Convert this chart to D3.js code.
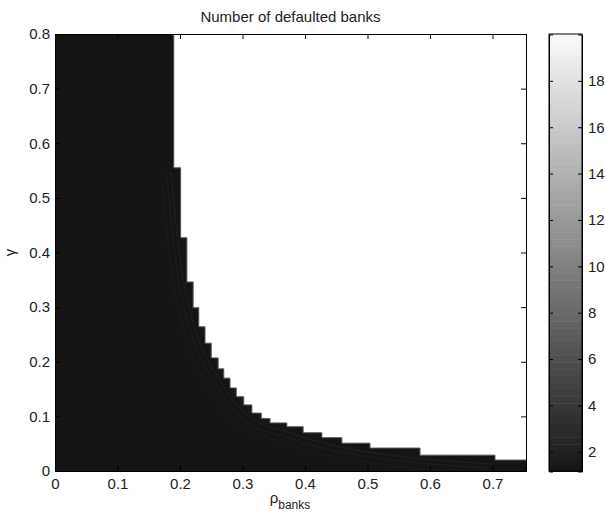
<!DOCTYPE html>
<html>
<head>
<meta charset="utf-8">
<script src="https://cdn.jsdelivr.net/npm/d3@7"></script>
<style>
  body { margin: 0; background: #fff; }
  svg { font-family: "Liberation Sans", Arial, sans-serif; }
  .axis path, .axis line { stroke: #000; }
  .axis text { font-size: 15px; fill: #222; }
</style>
</head>
<body>
<div id="chart"></div>
<script>
// step boundary of the dark (few defaults) region
const rhoSteps = [0, 0.190, 0.201, 0.211, 0.221, 0.230, 0.240, 0.250, 0.261, 0.270, 0.280, 0.290,
                  0.302, 0.315, 0.330, 0.344, 0.371, 0.397, 0.427, 0.459, 0.504, 0.584, 0.704, 0.7536];
const gammaTop = [0.8, 0.555, 0.427, 0.346, 0.299, 0.264, 0.234, 0.207, 0.187, 0.170, 0.152, 0.136,
                  0.121, 0.106, 0.096, 0.088, 0.081, 0.070, 0.061, 0.051, 0.042, 0.029, 0.020, 0.020];

const xTicks = [0, 0.1, 0.2, 0.3, 0.4, 0.5, 0.6, 0.7];
const yTicks = [0, 0.1, 0.2, 0.3, 0.4, 0.5, 0.6, 0.7, 0.8];
const cbTicks = [2, 4, 6, 8, 10, 12, 14, 16, 18];
const cbRange = [1.15, 20];
const nLevels = 64;

const width = 605, height = 515;
const plot = {left: 55, right: 526, top: 34, bottom: 471};
const cb = {left: 549, right: 582};

const svg = d3.select("#chart").append("svg")
    .attr("width", width)
    .attr("height", height);

const x = d3.scaleLinear().domain([0, 0.7536]).range([plot.left, plot.right]);
const y = d3.scaleLinear().domain([0, 0.8]).range([plot.bottom, plot.top]);
const cbY = d3.scaleLinear().domain(cbRange).range([plot.bottom + 0.5, plot.top + 0.5]);
const gray = d3.scaleLinear().domain(cbRange).range(["#151515", "#fafafa"]);

const pts = rhoSteps.map((r, i) => ({r: r, g: gammaTop[i]}));

svg.append("clipPath").attr("id", "clip")
  .append("rect")
    .attr("x", plot.left).attr("y", plot.top)
    .attr("width", plot.right - plot.left).attr("height", plot.bottom - plot.top);

const layer = svg.append("g").attr("clip-path", "url(#clip)");

// filled region
const area = d3.area()
    .x(d => x(d.r))
    .y0(y(0))
    .y1(d => y(d.g))
    .curve(d3.curveStepAfter);

layer.append("path")
    .datum(pts)
    .attr("fill", gray(cbRange[0]))
    .attr("d", area);

// faint contour lines inside the dark region
const smooth = d3.line()
    .x(d => x(d.r))
    .y(d => y(d.g))
    .curve(d3.curveBasis);

const inner = pts.slice(1, -1);
[[-3, 4, "#262626"], [-7, 8, "#222"], [-12, 13, "#1e1e1e"]].forEach(o => {
  layer.append("path")
      .datum(inner)
      .attr("fill", "none")
      .attr("stroke", o[2])
      .attr("stroke-width", 0.7)
      .attr("transform", `translate(${o[0]},${o[1]})`)
      .attr("d", smooth);
});

// grey fringe on the boundary
const edge = d3.line()
    .x(d => x(d.r))
    .y(d => y(d.g))
    .curve(d3.curveStepAfter);

layer.append("path")
    .datum(pts)
    .attr("fill", "none")
    .attr("stroke", "#555")
    .attr("stroke-width", 1)
    .attr("d", edge);

// axes, ticks pointing inward, box on
svg.append("g")
    .attr("class", "axis")
    .attr("transform", `translate(0,${plot.bottom})`)
    .call(d3.axisBottom(x).tickValues(xTicks).tickSize(-5).tickPadding(7).tickFormat(d3.format("")));

svg.append("g")
    .attr("class", "axis")
    .attr("transform", `translate(0,${plot.top})`)
    .call(d3.axisTop(x).tickValues(xTicks).tickSize(-5).tickFormat(""));

svg.append("g")
    .attr("class", "axis")
    .attr("transform", `translate(${plot.left},0)`)
    .call(d3.axisLeft(y).tickValues(yTicks).tickSize(-5).tickPadding(5).tickFormat(d3.format("")));

svg.append("g")
    .attr("class", "axis")
    .attr("transform", `translate(${plot.right},0)`)
    .call(d3.axisRight(y).tickValues(yTicks).tickSize(-5).tickFormat(""));

// title and labels
svg.append("text")
    .attr("x", (plot.left + plot.right) / 2)
    .attr("y", 22)
    .attr("text-anchor", "middle")
    .style("font-size", "15px")
    .attr("fill", "#222")
    .text("Number of defaulted banks");

const xl = svg.append("text")
    .attr("x", 290)
    .attr("y", 503)
    .attr("text-anchor", "middle")
    .style("font-size", "15px")
    .attr("fill", "#222");
xl.append("tspan").text("ρ");
xl.append("tspan").attr("dy", 6).style("font-size", "12px").text("banks");

svg.append("text")
    .attr("transform", `translate(15,${(plot.top + plot.bottom) / 2}) rotate(-90)`)
    .attr("text-anchor", "middle")
    .style("font-size", "15px")
    .attr("fill", "#222")
    .text("γ");

// colorbar, banded like a 64 level gray map
const step = (cbRange[1] - cbRange[0]) / nLevels;
const bands = d3.range(nLevels).map(i => cbRange[0] + i * step);

svg.append("g").selectAll("rect")
    .data(bands)
    .enter().append("rect")
    .attr("x", cb.left)
    .attr("width", cb.right - cb.left)
    .attr("y", d => cbY(d + step))
    .attr("height", d => cbY(d) - cbY(d + step) + 0.5)
    .attr("fill", d => gray(d + step / 2));

svg.append("g")
    .attr("class", "axis")
    .attr("transform", `translate(${cb.right},0)`)
    .call(d3.axisRight(cbY).tickValues(cbTicks).tickSize(-4).tickPadding(6));

svg.append("g")
    .attr("class", "axis")
    .attr("transform", `translate(${cb.left},0)`)
    .call(d3.axisLeft(cbY).tickValues(cbTicks).tickSize(-4).tickFormat(""));

svg.append("rect")
    .attr("x", cb.left).attr("y", plot.top)
    .attr("width", cb.right - cb.left).attr("height", plot.bottom - plot.top)
    .attr("fill", "none")
    .attr("stroke", "#000");
</script>
</body>
</html>
